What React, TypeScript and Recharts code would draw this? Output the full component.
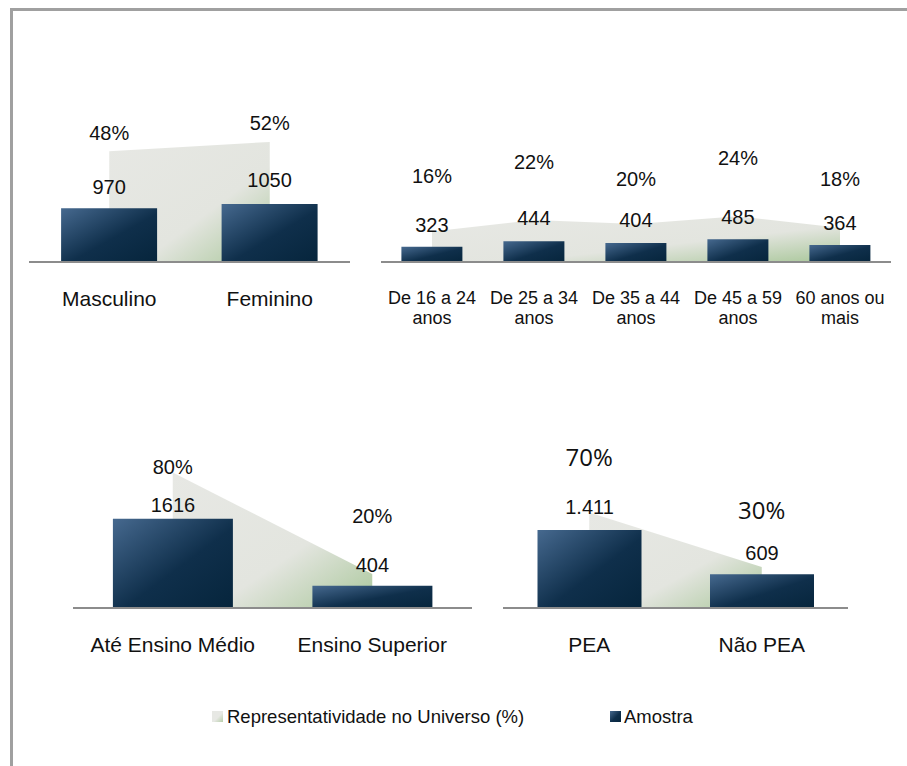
import React from "react";
import { ComposedChart, Area, Bar, XAxis, YAxis, LabelList } from "recharts";

// Sexo
const genderCats = ["Masculino", "Feminino"];
const genderSample = [970, 1050];
const genderPct = [48, 52];

// Faixa etária
const ageCats = [
  "De 16 a 24\nanos",
  "De 25 a 34\nanos",
  "De 35 a 44\nanos",
  "De 45 a 59\nanos",
  "60 anos ou\nmais",
];
const ageSample = [323, 444, 404, 485, 364];
const agePct = [16, 22, 20, 24, 18];

// Escolaridade
const eduCats = ["Até Ensino Médio", "Ensino Superior"];
const eduSample = [1616, 404];
const eduPct = [80, 20];

// PEA
const peaCats = ["PEA", "Não PEA"];
const peaSample = [1411, 609];
const peaPct = [70, 30];

const FONT = '"Liberation Sans", Arial, sans-serif';

type PanelProps = {
  id: string;
  cats: string[];
  sample: number[];
  pct: number[];
  left: number;
  top: number;
  width: number;
  barMax: number;
  pctMax: number;
  barLift: number[];
  pctLift: number[];
  tickFont: number;
  tickDy: number;
  pctFont?: number;
  pctFamily?: string;
  format?: (v: number) => string;
};

const PLOT_H = 200;
const AXIS_H = 80;

function Panel(p: PanelProps) {
  const data = p.cats.map((cat, i) => ({ cat, amostra: p.sample[i], pct: p.pct[i] }));
  const pctFont = p.pctFont ?? 20;
  const pctFamily = p.pctFamily ?? FONT;
  const fmt = p.format ?? ((v: number) => String(v));

  const renderTick = (props: any) => {
    const { x, y, payload } = props;
    const lines = String(payload.value).split("\n");
    return (
      <text
        x={x}
        y={y + p.tickDy}
        textAnchor="middle"
        fill="#111"
        style={{ fontFamily: FONT, fontSize: p.tickFont }}
      >
        {lines.map((l, i) => (
          <tspan key={i} x={x} dy={i === 0 ? 0 : 20}>
            {l}
          </tspan>
        ))}
      </text>
    );
  };

  const renderPct = (props: any) => {
    const vb = props.viewBox || {};
    const px = props.x ?? vb.x;
    const py = props.y ?? vb.y;
    const i = props.index;
    return (
      <text
        x={px}
        y={py - p.pctLift[i] + pctFont * 0.36}
        textAnchor="middle"
        fill="#111"
        style={{ fontFamily: pctFamily, fontSize: pctFont }}
      >
        {p.pct[i]}%
      </text>
    );
  };

  const renderVal = (props: any) => {
    const vb = props.viewBox || {};
    const bx = vb.x ?? props.x;
    const by = vb.y ?? props.y;
    const bw = vb.width ?? props.width;
    const i = props.index;
    return (
      <text
        x={bx + bw / 2}
        y={by - p.barLift[i] + 20 * 0.36}
        textAnchor="middle"
        fill="#111"
        style={{ fontFamily: FONT, fontSize: 20 }}
      >
        {fmt(p.sample[i])}
      </text>
    );
  };

  return (
    <div style={{ position: "absolute", left: p.left, top: p.top }}>
      <ComposedChart
        width={p.width}
        height={PLOT_H + AXIS_H}
        data={data}
        margin={{ top: 0, right: 0, bottom: 0, left: 0 }}
        barCategoryGap="20%"
      >
        <defs>
          <linearGradient id={`area-${p.id}`} x1="0" y1="0" x2="1" y2="1">
            <stop offset="0%" stopColor="#e7e8e4" />
            <stop offset="60%" stopColor="#e3e5df" />
            <stop offset="100%" stopColor="#a9c79a" />
          </linearGradient>
          <linearGradient id={`bar-${p.id}`} x1="0" y1="0" x2="1" y2="1">
            <stop offset="0%" stopColor="#46698f" />
            <stop offset="55%" stopColor="#0f2f4b" />
            <stop offset="100%" stopColor="#06253c" />
          </linearGradient>
        </defs>
        <XAxis
          dataKey="cat"
          interval={0}
          height={AXIS_H}
          tickLine={false}
          tickSize={0}
          tickMargin={0}
          axisLine={{ stroke: "#8c8c8c", strokeWidth: 2 }}
          tick={renderTick}
        />
        <YAxis yAxisId="bar" hide domain={[0, p.barMax]} />
        <YAxis yAxisId="pct" hide domain={[0, p.pctMax]} />
        <Area
          yAxisId="pct"
          type="linear"
          dataKey="pct"
          stroke="none"
          fill={`url(#area-${p.id})`}
          fillOpacity={1}
          dot={false}
          activeDot={false}
          isAnimationActive={false}
        >
          <LabelList dataKey="pct" content={renderPct} />
        </Area>
        <Bar
          yAxisId="bar"
          dataKey="amostra"
          fill={`url(#bar-${p.id})`}
          isAnimationActive={false}
        >
          <LabelList dataKey="amostra" content={renderVal} />
        </Bar>
      </ComposedChart>
    </div>
  );
}

export default function App() {
  return (
    <div
      style={{
        position: "absolute",
        left: 0,
        top: 0,
        width: 907,
        height: 766,
        overflow: "hidden",
        background: "#fff",
        fontFamily: FONT,
      }}
    >
      <div
        style={{
          position: "absolute",
          left: 10,
          top: 8,
          width: 920,
          height: 800,
          borderLeft: "3px solid #a0a0a0",
          borderTop: "3px solid #a0a0a0",
        }}
      />
      <Panel
        id="sexo"
        cats={genderCats}
        sample={genderSample}
        pct={genderPct}
        left={29}
        top={62}
        width={321}
        barMax={3617}
        pctMax={86.6}
        barLift={[22, 24]}
        pctLift={[18, 19]}
        tickFont={21}
        tickDy={44}
      />
      <Panel
        id="idade"
        cats={ageCats}
        sample={ageSample}
        pct={agePct}
        left={381}
        top={62}
        width={510}
        barMax={4255}
        pctMax={105}
        barLift={[22, 23, 23, 22, 22]}
        pctLift={[56, 58, 45, 58, 49]}
        tickFont={18}
        tickDy={41.5}
      />
      <Panel
        id="escol"
        cats={eduCats}
        sample={eduSample}
        pct={eduPct}
        left={73}
        top={408}
        width={399}
        barMax={3617}
        pctMax={118}
        barLift={[14, 21]}
        pctLift={[6, 58]}
        tickFont={21}
        tickDy={44}
      />
      <Panel
        id="pea"
        cats={peaCats}
        sample={peaSample}
        pct={peaPct}
        left={503}
        top={408}
        width={345}
        barMax={3617}
        pctMax={146.5}
        barLift={[23, 22]}
        pctLift={[55, 57]}
        tickFont={21}
        tickDy={44}
        pctFont={24}
        pctFamily='"Open Sans", sans-serif'
        format={(v) => v.toLocaleString("pt-BR")}
      />
      <div
        style={{
          position: "absolute",
          left: 212,
          top: 711,
          width: 11,
          height: 11,
          background: "linear-gradient(135deg, #e7e8e4 55%, #b5cda7)",
        }}
      />
      <div
        style={{
          position: "absolute",
          left: 227,
          top: 707,
          fontSize: 18.5,
          lineHeight: "20px",
          color: "#111",
          whiteSpace: "nowrap",
        }}
      >
        Representatividade no Universo (%)
      </div>
      <div
        style={{
          position: "absolute",
          left: 610,
          top: 711,
          width: 11,
          height: 11,
          background: "linear-gradient(135deg, #46698f, #0f2f4b 55%, #06253c)",
        }}
      />
      <div
        style={{
          position: "absolute",
          left: 624,
          top: 707,
          fontSize: 18.5,
          lineHeight: "20px",
          color: "#111",
          whiteSpace: "nowrap",
        }}
      >
        Amostra
      </div>
    </div>
  );
}
